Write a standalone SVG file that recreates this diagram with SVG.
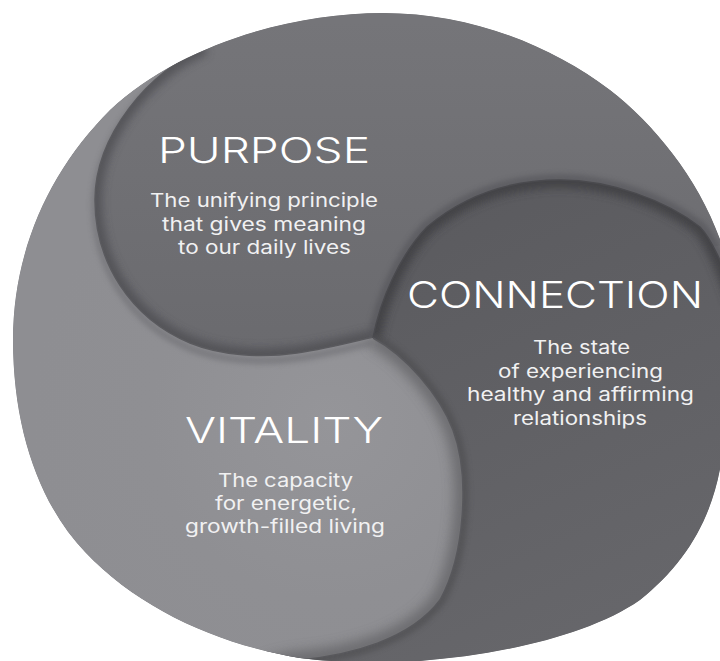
<svg xmlns="http://www.w3.org/2000/svg" width="720" height="661" viewBox="0 0 720 661">
  <style>
    .title { font-family: Inter, Lato, "Liberation Sans", sans-serif; font-weight: 300; fill: #ffffff; text-anchor: middle; }
    .body { font-family: Inter, Lato, "Liberation Sans", sans-serif; font-weight: 400; fill: #f1f1f2; text-anchor: middle; font-size: 18.5px; }
  </style>
  <defs>
    <path id="outerPath" d="M383,13 C470,13 550,45 610,90 C655,125 700,180 722,245 L724,300 L724,440 C718,510 690,560 640,600 C590,635 500,655 420,661 C380,664 330,662 300,658 C220,645 140,610 85,552 C40,505 13,430 13,340 C13,250 50,170 110,110 C180,45 290,13 383,13 Z"/>
    <path id="pFill" d="M205,48 C150,70 95,135 95,200 C95,262 130,318 190,343 C222,356 262,358 297,353 C325,349 352,342 373,337 L470,280 L760,240 L760,-30 L205,-30 Z"/>
    <path id="pEdge" d="M205,48 C150,70 95,135 95,200 C95,262 130,318 190,343 C222,356 262,358 297,353 C325,349 352,342 373,337"/>
    <path id="dFill" d="M373,338 C380,300 400,255 427,227 C465,195 510,180 560,180 C610,180 665,200 700,227 C712,240 722,262 735,300 L780,300 L780,700 L250,700 Z"/>
    <path id="cEdge" d="M373,338 C380,300 400,255 427,227 C465,195 510,180 560,180 C610,180 665,200 700,227 C712,240 722,262 735,300"/>
    <path id="lFill" d="M373,338 C405,355 440,395 453,430 C470,475 465,555 440,600 C410,640 350,655 300,660 C280,662 260,668 240,680 L-20,690 L-20,20 L205,20 Z"/>
    <path id="vEdge" d="M373,338 C405,355 440,395 453,430 C470,475 465,555 440,600 C410,640 350,655 300,660 C280,662 260,668 240,680"/>
    <clipPath id="clipOuter"><use href="#outerPath"/></clipPath>
    <clipPath id="clipP"><use href="#pFill"/></clipPath>
    <clipPath id="clipD"><use href="#dFill"/></clipPath>
    <clipPath id="clipL"><use href="#lFill"/></clipPath>
    <mask id="notP" maskUnits="userSpaceOnUse" x="-50" y="-50" width="850" height="800">
      <rect x="-50" y="-50" width="850" height="800" fill="#ffffff"/>
      <use href="#pFill" fill="#000000"/>
    </mask>
    <filter id="blur4" x="-30%" y="-30%" width="160%" height="160%"><feGaussianBlur stdDeviation="4"/></filter>
    <filter id="blur3" x="-30%" y="-30%" width="160%" height="160%"><feGaussianBlur stdDeviation="2.5"/></filter>
    <filter id="blur6" x="-30%" y="-30%" width="160%" height="160%"><feGaussianBlur stdDeviation="6"/></filter>
    <linearGradient id="gP" gradientUnits="userSpaceOnUse" x1="0" y1="20" x2="0" y2="360">
      <stop offset="0" stop-color="#757579"/>
      <stop offset="1" stop-color="#6a6a6e"/>
    </linearGradient>
    <linearGradient id="gD" gradientUnits="userSpaceOnUse" x1="450" y1="200" x2="650" y2="640">
      <stop offset="0" stop-color="#5b5b5f"/>
      <stop offset="1" stop-color="#67676b"/>
    </linearGradient>
    <radialGradient id="gL" gradientUnits="userSpaceOnUse" cx="330" cy="420" r="300">
      <stop offset="0" stop-color="#959599"/>
      <stop offset="0.6" stop-color="#8f8f93"/>
      <stop offset="1" stop-color="#8e8e92"/>
    </radialGradient>
  </defs>

  <rect width="720" height="661" fill="#ffffff"/>

  <g id="swirl" clip-path="url(#clipOuter)">
    <use href="#outerPath" fill="#747478"/>
    <!-- purpose region -->
    <use href="#pFill" fill="url(#gP)"/>
    <g clip-path="url(#clipP)">
      <use href="#pEdge" fill="none" stroke="#4c4c50" stroke-width="14" opacity="0.75" filter="url(#blur4)"/>
    </g>
    <!-- shade cast by connection rim onto purpose -->
    <use href="#cEdge" fill="none" stroke="#505054" stroke-width="12" opacity="0.5" filter="url(#blur3)"/>
    <!-- connection region -->
    <use href="#dFill" fill="url(#gD)"/>
    <g clip-path="url(#clipD)">
      <use href="#cEdge" fill="none" stroke="#3c3c40" stroke-width="16" opacity="0.8" filter="url(#blur4)"/>
    </g>
    <!-- shade cast by vitality rim onto connection -->
    <use href="#vEdge" fill="none" stroke="#48484c" stroke-width="12" opacity="0.5" filter="url(#blur3)"/>
    <!-- vitality region (lies under purpose) -->
    <g mask="url(#notP)">
      <use href="#lFill" fill="url(#gL)"/>
      <g clip-path="url(#clipL)">
        <use href="#vEdge" fill="none" stroke="#5e5e62" stroke-width="18" opacity="0.7" filter="url(#blur6)"/>
        <use href="#pEdge" fill="none" stroke="#707074" stroke-width="8" opacity="0.6" transform="translate(0,5)" filter="url(#blur3)"/>
      </g>
    </g>
    <!-- crisp rims -->
    <use href="#pEdge" fill="none" stroke="#5a5a5e" stroke-width="1.5"/>
    <use href="#cEdge" fill="none" stroke="#4a4a4e" stroke-width="1.5"/>
    <use href="#vEdge" fill="none" stroke="#58585c" stroke-width="1.5"/>
  </g>

  <g id="purpose">
    <text class="title" x="264" y="163" font-size="36" textLength="212" lengthAdjust="spacingAndGlyphs">PURPOSE</text>
    <text class="body" x="264" y="207" textLength="228" lengthAdjust="spacingAndGlyphs">The unifying principle</text>
    <text class="body" x="264" y="230.5" textLength="204" lengthAdjust="spacingAndGlyphs">that gives meaning</text>
    <text class="body" x="264.5" y="254" textLength="173" lengthAdjust="spacingAndGlyphs">to our daily lives</text>
  </g>
  <g id="connection">
    <text class="title" x="555" y="308" font-size="37" textLength="296" lengthAdjust="spacingAndGlyphs">CONNECTION</text>
    <text class="body" x="581.5" y="354" textLength="97" lengthAdjust="spacingAndGlyphs">The state</text>
    <text class="body" x="580.5" y="377.5" textLength="165" lengthAdjust="spacingAndGlyphs">of experiencing</text>
    <text class="body" x="580.5" y="401" textLength="227" lengthAdjust="spacingAndGlyphs">healthy and affirming</text>
    <text class="body" x="580" y="424.5" textLength="134" lengthAdjust="spacingAndGlyphs">relationships</text>
  </g>
  <g id="vitality">
    <text class="title" x="284" y="443" font-size="36" textLength="198" lengthAdjust="spacingAndGlyphs">VITALITY</text>
    <text class="body" x="285.5" y="487" textLength="135" lengthAdjust="spacingAndGlyphs">The capacity</text>
    <text class="body" x="286" y="510" textLength="142" lengthAdjust="spacingAndGlyphs">for energetic,</text>
    <text class="body" x="285" y="533" textLength="200" lengthAdjust="spacingAndGlyphs">growth-filled living</text>
  </g>
</svg>
